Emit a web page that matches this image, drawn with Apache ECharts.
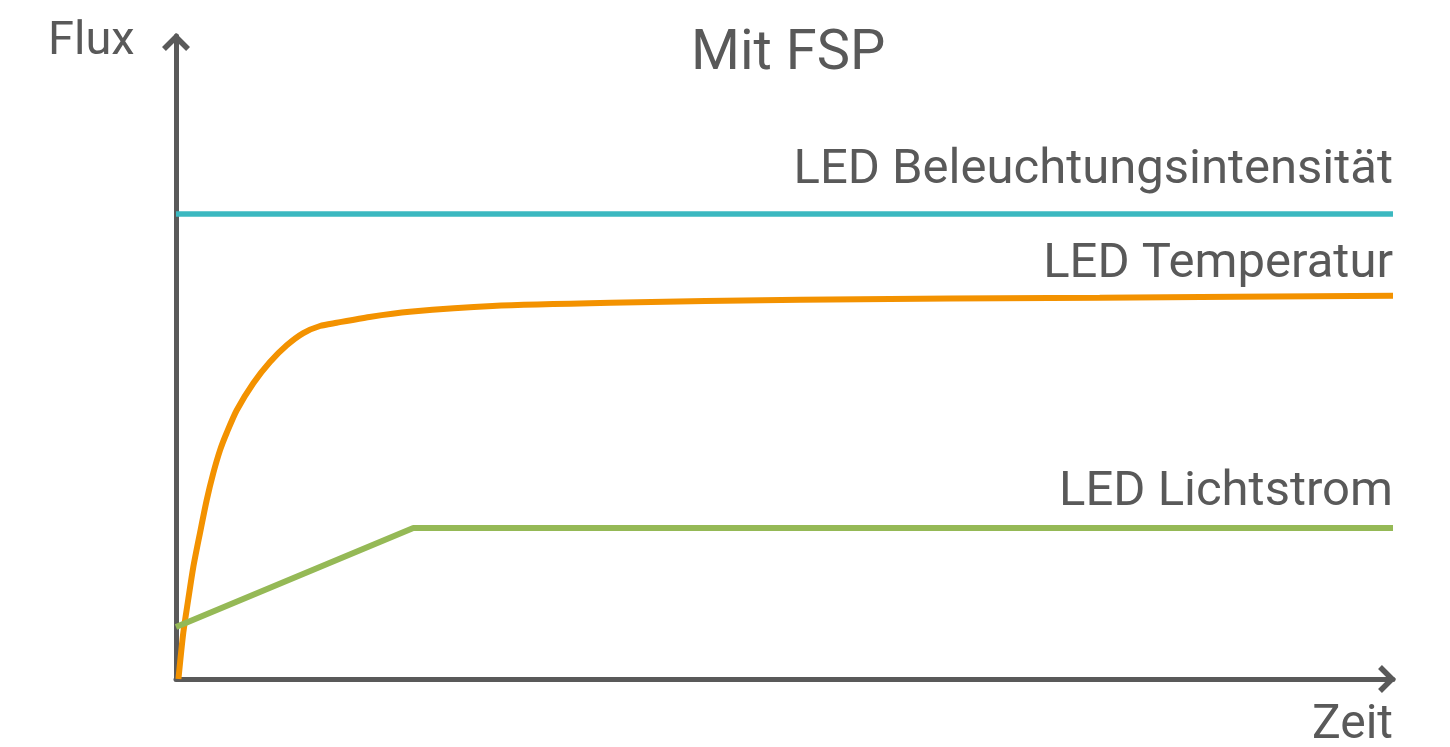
<!DOCTYPE html>
<html>
<head>
<meta charset="utf-8">
<script src="https://cdn.jsdelivr.net/npm/echarts@6/dist/echarts.min.js"></script>
<style>
html, body { margin: 0; padding: 0; background: #fff; }
#main { width: 1450px; height: 747px; }
</style>
</head>
<body>
<div id="main"></div>
<script>
// Werte (x: Zeit 0..100, y: Flux 0..100)
var seriesNames = ['LED Beleuchtungsintensität', 'LED Temperatur', 'LED Lichtstrom'];
var intensitaet = [[0, 72.3], [100, 72.3]];
var temperatur = [
	[0.2, 0], [0.6, 7.2], [1.0, 12.3], [1.42, 17.4], [1.97, 22.7], [2.52, 27.8],
	[3.06, 32.0], [3.62, 35.6], [4.17, 38.3], [4.99, 41.8], [6.35, 46.0], [7.72, 49.3],
	[9.1, 51.9], [10.46, 53.8], [11.83, 54.9], [13.2, 55.4], [15.9, 56.3], [19.2, 57.1],
	[26.0, 58.0], [35.7, 58.5], [51.3, 59.0], [75.9, 59.3], [100, 59.6]
];
var lichtstrom = [[0, 8.1], [19.5, 23.5], [100, 23.5]];
var colors = ['#3bb8c0', '#f39200', '#95b956'];

var textColor = '#595959';
var font = 'Roboto, "Noto Sans", sans-serif';
// offener Pfeil als Achsenende
var chevron = 'path://M10 0 L20 10 L17.2 12.8 L10 5.6 L2.8 12.8 L0 10 Z';

var myChart = echarts.init(document.getElementById('main'));

var axisCommon = {
	type: 'value',
	min: 0,
	max: 100,
	axisLine: {
		show: true,
		symbol: ['none', chevron],
		symbolSize: [28, 18],
		symbolOffset: [0, -6],
		lineStyle: { color: '#595959', width: 5 }
	},
	axisTick: { show: false },
	axisLabel: { show: false },
	splitLine: { show: false }
};

function labelText(text, x, y, size, align) {
	return {
		type: 'text',
		x: x,
		y: y,
		style: {
			text: text,
			fill: textColor,
			font: size + 'px ' + font,
			textAlign: align,
			textVerticalAlign: 'middle'
		}
	};
}

var option = {
	animation: false,
	title: {
		text: 'Mit FSP',
		left: 686,
		top: 22,
		textStyle: { color: textColor, fontSize: 56, fontWeight: 'normal', fontFamily: font }
	},
	grid: { left: 176, right: 57, top: 36, bottom: 68 },
	xAxis: axisCommon,
	yAxis: axisCommon,
	series: [{
		name: seriesNames[0],
		type: 'line',
		data: intensitaet,
		symbol: 'none',
		lineStyle: { color: colors[0], width: 5.5 }
	}, {
		name: seriesNames[1],
		type: 'line',
		data: temperatur,
		symbol: 'none',
		smooth: 0.25,
		lineStyle: { color: colors[1], width: 6 }
	}, {
		name: seriesNames[2],
		type: 'line',
		data: lichtstrom,
		symbol: 'none',
		lineStyle: { color: colors[2], width: 6 }
	}],
	graphic: [
		labelText(seriesNames[0], 1393, 171, 49, 'right'),
		labelText(seriesNames[1], 1393, 265, 49, 'right'),
		labelText(seriesNames[2], 1393, 493, 49, 'right'),
		labelText('Flux', 48, 42, 47, 'left'),
		labelText('Zeit', 1393, 726, 48, 'right')
	]
};
myChart.setOption(option);
</script>
</body>
</html>
